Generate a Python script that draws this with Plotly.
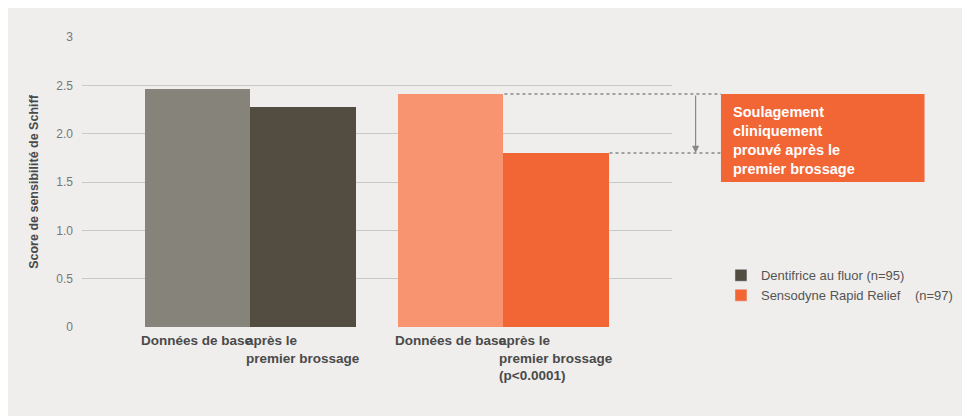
import plotly.graph_objects as go

categories = ["Données de base", "après le<br>premier brossage",
              "Données de base", "après le<br>premier brossage<br>(p<0.0001)"]
positions = [0, 1, 2.4, 3.4]
values = [2.46, 2.28, 2.41, 1.80]
bar_colors = ["#86837a", "#534c40", "#f8946f", "#f26535"]
legend_names = ["Dentifrice au fluor (n=95)", "Sensodyne Rapid Relief    (n=97)"]
legend_colors = ["#534c40", "#f26535"]
y_ticks = [0, 0.5, 1.0, 1.5, 2.0, 2.5, 3]
y_labels = ["0", "0.5", "1.0", "1.5", "2.0", "2.5", "3"]

fig = go.Figure()
fig.add_trace(go.Bar(x=positions, y=values, width=1, marker=dict(color=bar_colors, line=dict(width=0)),
                     showlegend=False, hoverinfo="y"))
for name, col in zip(legend_names, legend_colors):
    fig.add_trace(go.Bar(x=[None], y=[None], name=name, marker_color=col))

font = "Liberation Sans, Arial, sans-serif"
fig.update_layout(
    width=962, height=408,
    paper_bgcolor="#efeeed", plot_bgcolor="#efeeed",
    margin=dict(l=74, r=287, t=29, b=89),
    font=dict(family=font, size=12, color="#555"),
    xaxis=dict(range=[-1.093, 4.498], showticklabels=False, showgrid=False, zeroline=False, fixedrange=True),
    yaxis=dict(range=[0, 3], tickvals=y_ticks, ticktext=y_labels, showgrid=True, gridcolor="#c9c9c9",
               zeroline=False, ticks="", ticklabelstandoff=8,
               tickfont=dict(size=12, color="#777"),
               title=dict(text="<b>Score de sensibilité de Schiff</b>", font=dict(size=12.5, color="#4a4a4a"),
                          standoff=14)),
    legend=dict(x=1.083, y=0.23, xanchor="left", yanchor="top", bgcolor="rgba(0,0,0,0)",
                font=dict(size=13, color="#555"), itemwidth=30),
    bargap=0,
)

for p, c in zip(positions, categories):
    fig.add_annotation(x=p, y=0, yref="y", text="<b>" + c + "</b>", showarrow=False, yanchor="top",
                       xanchor="center", yshift=-4, align="left" if "<br>" in c else "center",
                       font=dict(size=13.5, color="#4a4a4a"))

# dotted guides and arrow
fig.add_shape(type="line", xref="paper", yref="y", x0=0.716, x1=1.083, y0=values[2], y1=values[2],
              line=dict(color="#888", width=1.5, dash="dot"))
fig.add_shape(type="line", xref="paper", yref="y", x0=0.894, x1=1.083, y0=values[3], y1=values[3],
              line=dict(color="#888", width=1.5, dash="dot"))
fig.add_annotation(xref="paper", yref="y", x=1.04, y=values[3], ax=0, ay=-59, showarrow=True,
                   arrowhead=2, arrowsize=1.2, arrowwidth=1.2, arrowcolor="#888", text="")

# callout box
fig.add_shape(type="rect", xref="paper", yref="y", x0=1.083, x1=1.428, y0=1.50, y1=2.41,
              fillcolor="#f26535", line=dict(width=0), layer="below")
fig.add_annotation(xref="paper", yref="y", x=1.10, y=2.33, xanchor="left", yanchor="top", showarrow=False,
                   align="left", text="<b>Soulagement<br>cliniquement<br>prouvé après le<br>premier brossage</b>",
                   font=dict(size=14.5, color="white"))

fig.write_html("out.html")
